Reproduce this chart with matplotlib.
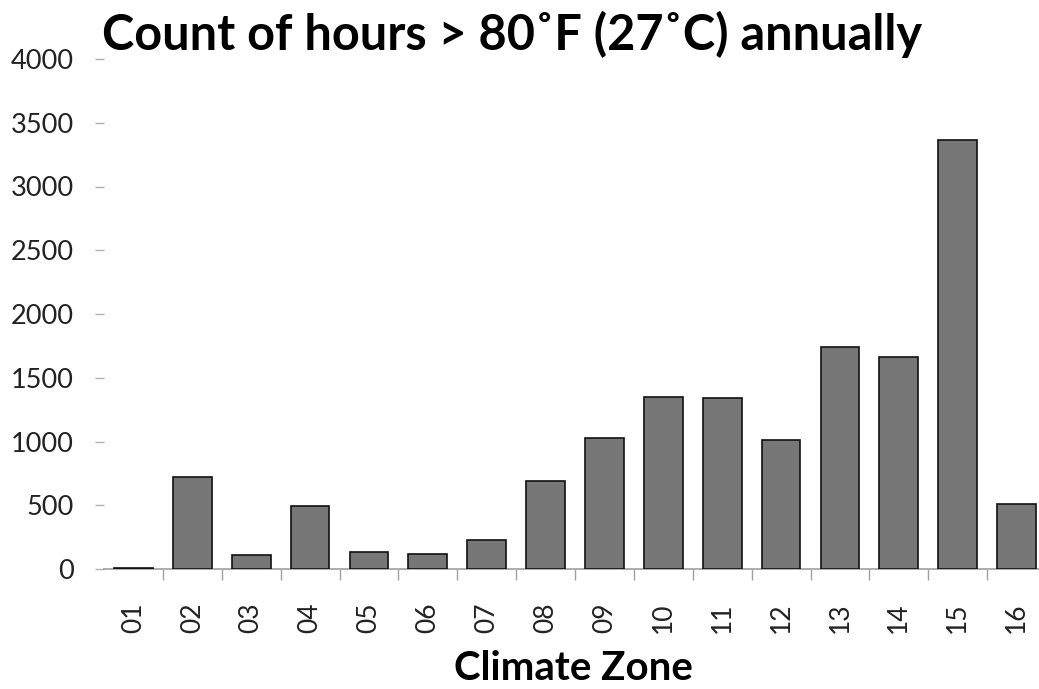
import matplotlib
matplotlib.use("Agg")
import matplotlib.pyplot as plt
import numpy as np

zones = ["01", "02", "03", "04", "05", "06", "07", "08",
         "09", "10", "11", "12", "13", "14", "15", "16"]
hours = [10, 720, 112, 492, 131, 115, 230, 690,
         1027, 1349, 1341, 1009, 1741, 1663, 3367, 507]
yticks = [0, 500, 1000, 1500, 2000, 2500, 3000, 3500, 4000]

plt.rcParams['font.family'] = ['Lato', 'DejaVu Sans']

W, H = 1039, 689
fig = plt.figure(figsize=(W / 100, H / 100), dpi=100)
ax = fig.add_axes([104 / W, 1 - 569 / H, (1046 - 104) / W, (569 - 59) / H])

x = np.arange(len(zones))
ax.bar(x, hours, width=0.66, color="#777777", edgecolor="#111111", linewidth=1.2, zorder=3)

ax.set_xlim(-0.5, len(zones) - 0.5)
ax.set_ylim(0, 4000)
ax.set_yticks(yticks)
ax.set_yticklabels([str(v) for v in yticks], fontsize=19.5, color="#222222")
ax.set_xticks(x)
ax.set_xticklabels(zones, rotation=90, fontsize=19, color="#222222")
ax.set_xticks(np.arange(0.5, len(zones) - 1, 1.0), minor=True)

for s in ["top", "right", "left"]:
    ax.spines[s].set_visible(False)
ax.spines["bottom"].set_color("#a0a0a0")
ax.spines["bottom"].set_linewidth(1.2)

ax.tick_params(axis="y", direction="out", length=6.5, width=1, color="#b0b0b0", pad=15)
ax.tick_params(axis="x", which="major", length=0, pad=24)
ax.tick_params(axis="x", which="minor", direction="out", length=8, width=1, color="#a0a0a0")

fig.text(512 / W, 1 - 34 / H, "Count of hours > 80˚F (27˚C) annually",
         ha="center", va="center", fontsize=35, fontweight="bold", color="black")
fig.text(573 / W, 1 - 668 / H, "Climate Zone",
         ha="center", va="center", fontsize=29, fontweight="bold", color="black")

fig.savefig("out.png", dpi=100)
